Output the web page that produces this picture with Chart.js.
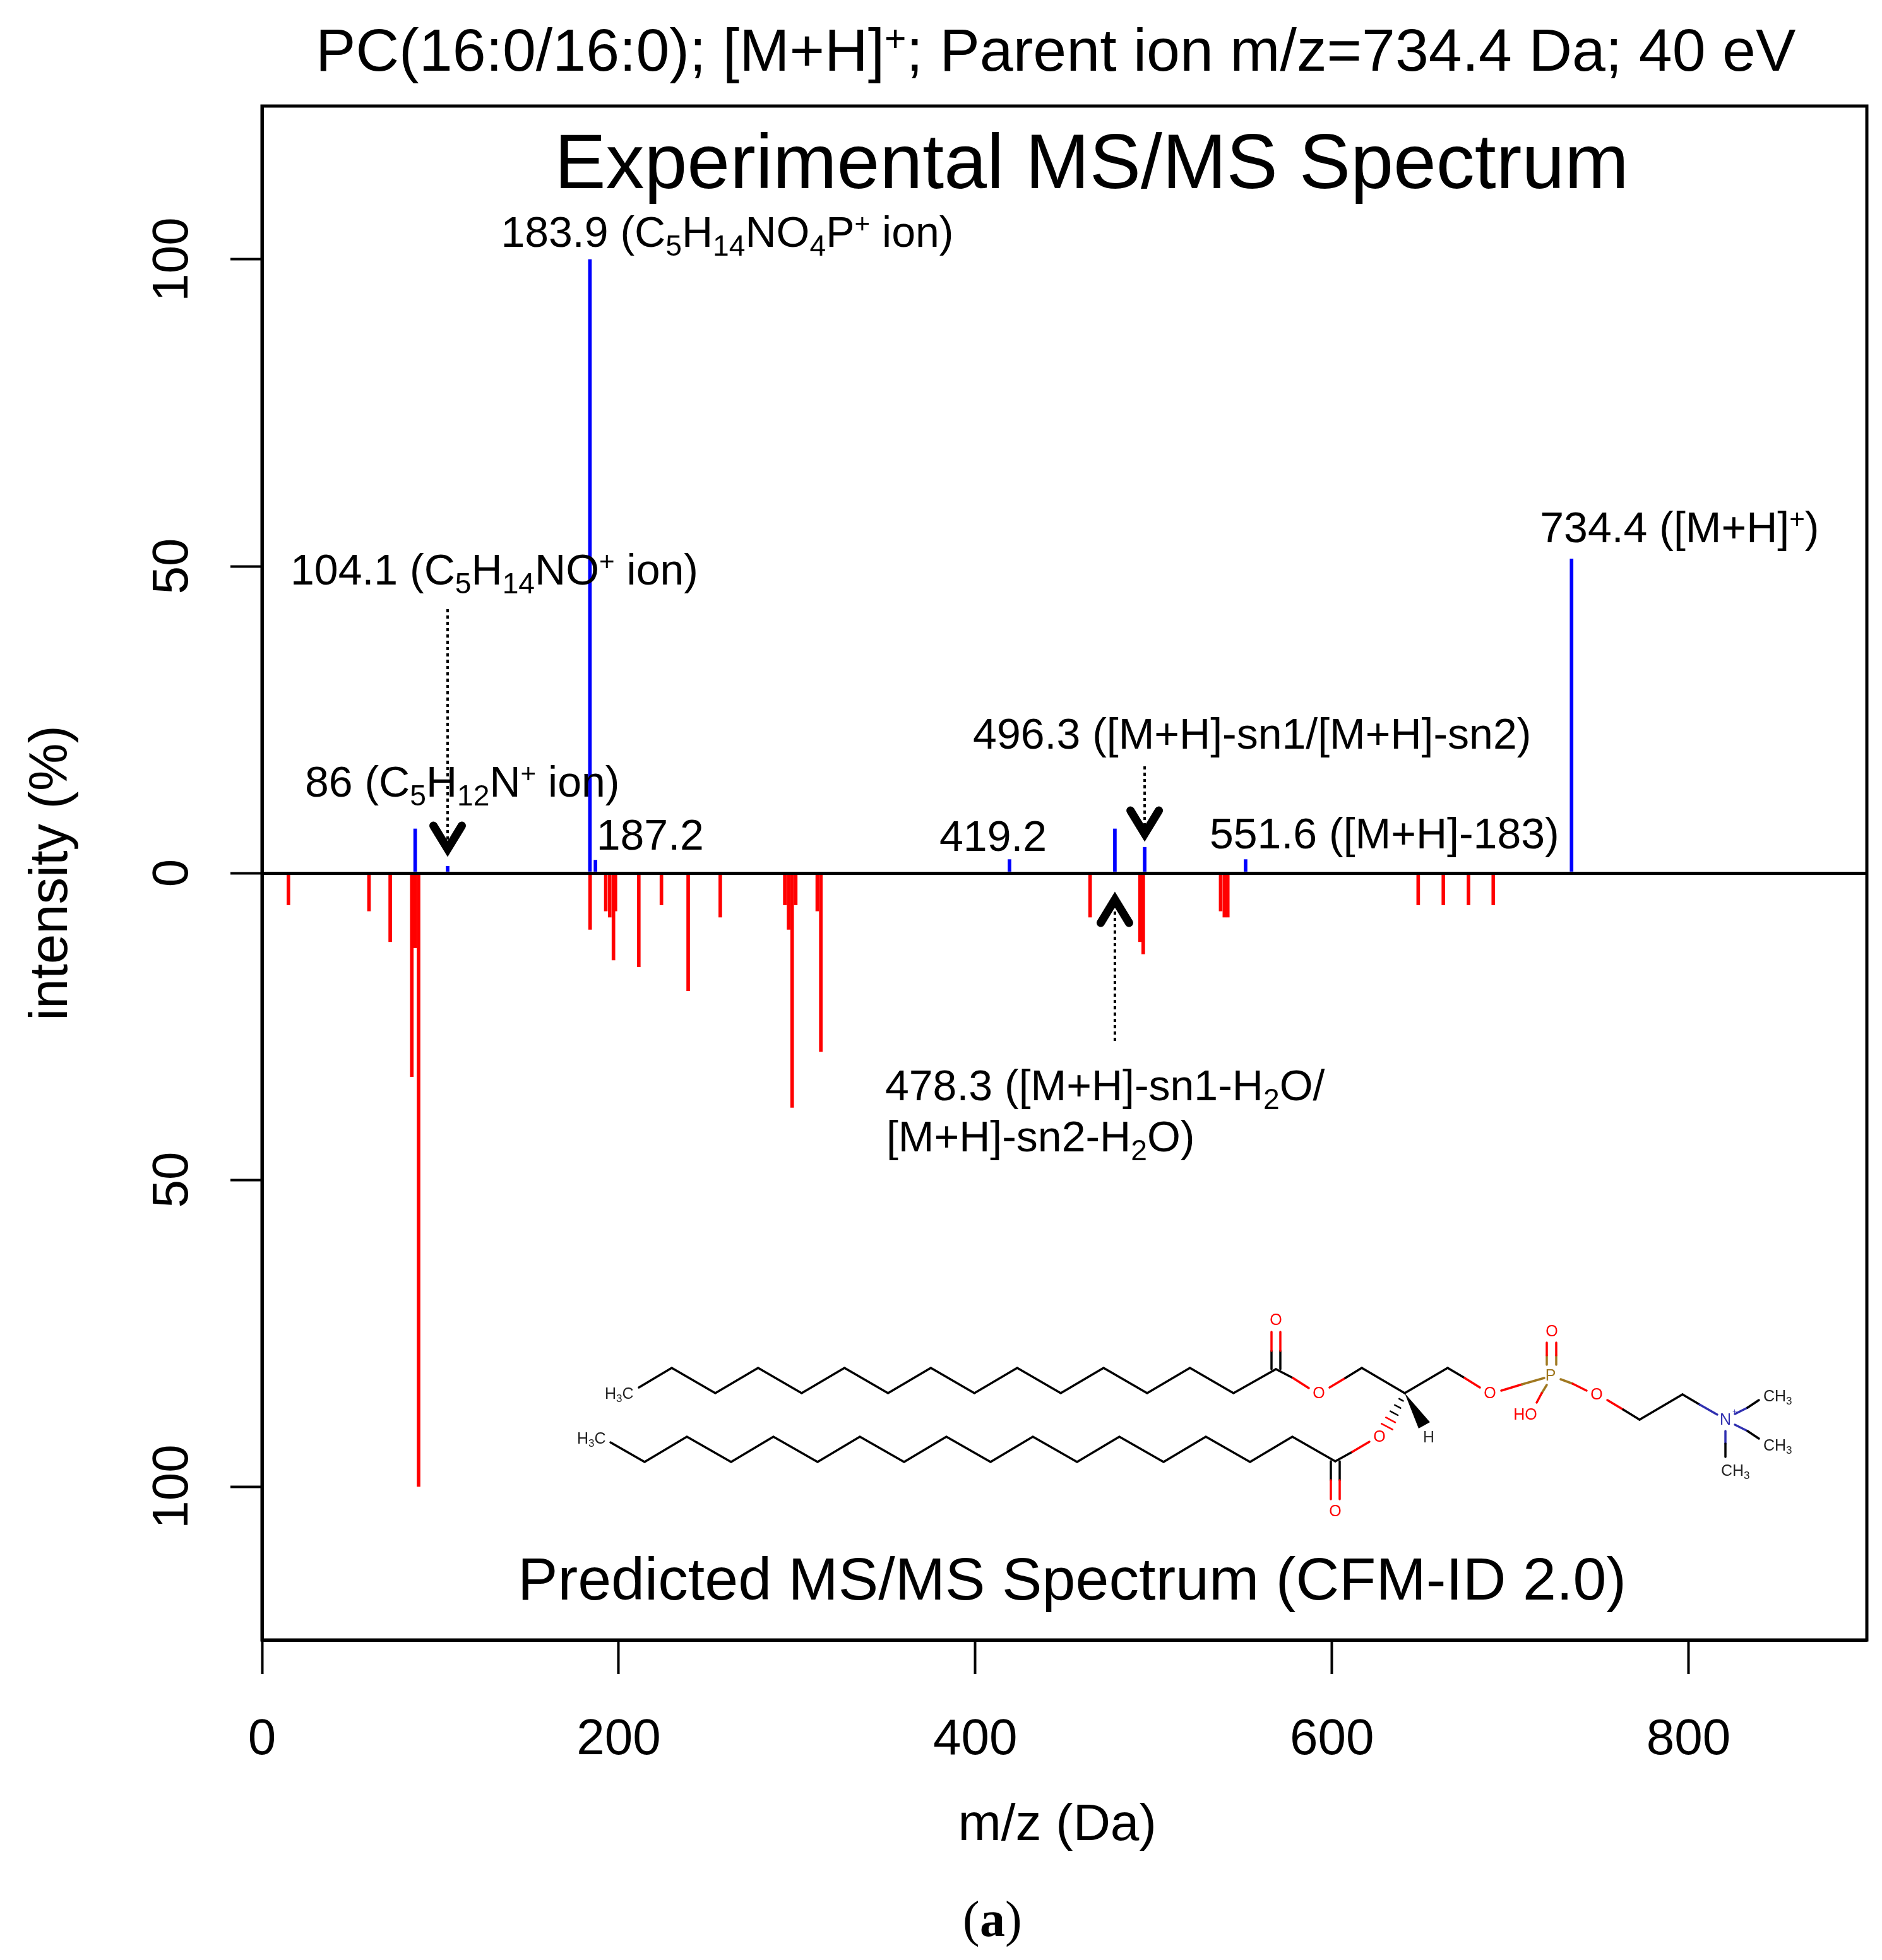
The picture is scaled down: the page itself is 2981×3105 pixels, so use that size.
<!DOCTYPE html>
<html>
<head>
<meta charset="utf-8">
<title>PC(16:0/16:0) MS/MS</title>
<script src="https://cdn.jsdelivr.net/npm/chart.js@4"></script>
<style>
  html, body { margin: 0; padding: 0; background: #fff; }
  canvas { display: block; }
</style>
</head>
<body>
<canvas id="spectrum" width="2981" height="3105"></canvas>
<script>
// Experimental peaks (drawn upward)
const expMz = [85.9, 104.1, 183.9, 187, 419.2, 478.3, 495, 551.6, 734.4];
const expIntensity = [7.2, 1.1, 100, 2.1, 2.2, 7.2, 4.2, 2.2, 51.2];

// Predicted peaks (drawn downward)
const predMz = [14.8, 60, 71.9, 84, 85.9, 87.8, 184, 192.8, 195, 197.1, 198.2, 211.3, 224, 239, 257,
  293.2, 295.3, 297.3, 299.3, 311.4, 313.4, 464.4, 492.4, 494.2, 537.6, 539.7, 541.6, 648.4, 662.5, 676.6, 690.5];
const predIntensity = [5.2, 6.2, 11.2, 33.2, 12.2, 100, 9.2, 6.2, 7.2, 14.2, 6.2, 15.3, 5.2, 19.2, 7.2,
  5.2, 9.2, 38.2, 5.2, 6.2, 29.1, 7.2, 11.2, 13.2, 6.2, 7.2, 7.2, 5.2, 5.2, 5.2, 5.2];

const xTicks = [0, 200, 400, 600, 800];
const yTicks = [-100, -50, 0, 50, 100];

const FONT = '"Liberation Sans", Arial, sans-serif';

// rich text helper: segments are [text, 'sub' | 'sup' | undefined]
function drawRich(ctx, segs, x, y, size, color) {
  ctx.textAlign = 'left';
  ctx.textBaseline = 'alphabetic';
  ctx.fillStyle = color || '#000';
  let cx = x;
  segs.forEach(function (s) {
    let small = size, dy = 0;
    if (s[1] === 'sub') { small = size * 0.68; dy = size * 0.2; }
    if (s[1] === 'sup') { small = size * 0.62; dy = -size * 0.33; }
    ctx.font = small + 'px ' + FONT;
    ctx.fillText(s[0], cx, y + dy);
    cx += ctx.measureText(s[0]).width;
  });
}

// peak labels, placed from the peak's own scale position plus a pixel offset
const peakLabels = [
  { mz: 183.9, val: 100, dx: -141, dy: -20, segs: [['183.9 (C'], ['5', 'sub'], ['H'], ['14', 'sub'], ['NO'], ['4', 'sub'], ['P'], ['+', 'sup'], [' ion)']] },
  { mz: 104.1, val: 0,   dx: -249, dy: -457, segs: [['104.1 (C'], ['5', 'sub'], ['H'], ['14', 'sub'], ['NO'], ['+', 'sup'], [' ion)']] },
  { mz: 86,    val: 0,   dx: -175, dy: -121, segs: [['86 (C'], ['5', 'sub'], ['H'], ['12', 'sub'], ['N'], ['+', 'sup'], [' ion)']] },
  { mz: 187.2, val: 0,   dx: 1,    dy: -37, segs: [['187.2']] },
  { mz: 419.2, val: 0,   dx: -111, dy: -35, segs: [['419.2']] },
  { mz: 551.6, val: 0,   dx: -57,  dy: -39, segs: [['551.6 ([M+H]-183)']] },
  { mz: 495,   val: 0,   dx: -272, dy: -197, segs: [['496.3 ([M+H]-sn1/[M+H]-sn2)']] },
  { mz: 734.4, val: 51,  dx: -50,  dy: -28, segs: [['734.4 ([M+H]'], ['+', 'sup'], [')']] },
  { mz: 478.3, val: 0,   dx: -364, dy: 360, segs: [['478.3 ([M+H]-sn1-H'], ['2', 'sub'], ['O/']] },
  { mz: 478.3, val: 0,   dx: -362, dy: 441, segs: [['[M+H]-sn2-H'], ['2', 'sub'], ['O)']] }
];

// dotted arrows with a chevron head (pixel offsets from the baseline)
const arrows = [
  { mz: 104.1, from: -418, to: -38, dir: 1 },
  { mz: 495,   from: -169, to: -62, dir: 1 },
  { mz: 478.3, from: 266,  to: 42,  dir: -1 }
];

// molecule, in page pixels
const black = '#000', oxy = '#f00', phos = '#a07820', nitro = '#3030b0';
const topChain = [[1012, 2198]];
for (const k of [0, 1, 2, 3, 4, 5, 6]) topChain.push([1064 + 136.8 * k, 2167], [1133 + 136.8 * k, 2207]);
topChain.push([2021, 2169]);
const botChain = [[967, 2285]];
for (const k of [0, 1, 2, 3, 4, 5, 6, 7]) botChain.push([1021 + 137 * k, 2316], [1088 + 137 * k, 2276]);
botChain.push([2115, 2315]);
const bonds = [
  [black, 2014, 2169, 2014, 2140], [oxy, 2014, 2140, 2014, 2110],
  [black, 2028, 2169, 2028, 2140], [oxy, 2028, 2140, 2028, 2110],
  [black, 2021, 2169, 2048, 2183], [oxy, 2048, 2183, 2073, 2199],
  [oxy, 2106, 2198, 2131, 2183], [black, 2131, 2183, 2157, 2167],
  [black, 2157, 2167, 2225, 2207], [black, 2225, 2207, 2293, 2167],
  [black, 2293, 2167, 2320, 2183], [oxy, 2320, 2183, 2344, 2198],
  [oxy, 2378, 2203, 2411, 2193], [phos, 2411, 2193, 2446, 2183],
  [phos, 2450, 2162, 2450, 2147], [oxy, 2450, 2147, 2450, 2127],
  [phos, 2465, 2162, 2465, 2147], [oxy, 2465, 2147, 2465, 2127],
  [phos, 2450, 2194, 2442, 2207], [oxy, 2442, 2207, 2434, 2222],
  [phos, 2472, 2185, 2491, 2192], [oxy, 2491, 2192, 2513, 2203],
  [oxy, 2546, 2218, 2571, 2233], [black, 2571, 2233, 2597, 2249],
  [black, 2597, 2249, 2665, 2209], [black, 2665, 2209, 2692, 2225],
  [nitro, 2692, 2225, 2720, 2241], [nitro, 2748, 2240, 2768, 2230], [black, 2768, 2230, 2786, 2218],
  [nitro, 2748, 2257, 2768, 2267], [black, 2768, 2267, 2786, 2279],
  [nitro, 2733, 2267, 2733, 2287], [black, 2733, 2287, 2733, 2308],
  [black, 2115, 2315, 2142, 2300], [oxy, 2142, 2300, 2169, 2284],
  [black, 2108, 2315, 2108, 2345], [oxy, 2108, 2345, 2108, 2375],
  [black, 2122, 2315, 2122, 2345], [oxy, 2122, 2345, 2122, 2375]
];
const atoms = [
  [oxy, 'O', 2021, 2092], [oxy, 'O', 2089, 2208], [oxy, 'O', 2360, 2208], [oxy, 'O', 2458, 2110],
  [oxy, 'HO', 2416, 2242], [oxy, 'O', 2529, 2210], [oxy, 'O', 2185, 2277], [oxy, 'O', 2115, 2395],
  [phos, 'P', 2456, 2180], [nitro, 'N', 2733, 2250], ['#333', 'H', 2263, 2278]
];
const methyls = [
  [2793, 2220], [2793, 2298], [2726, 2338]
];

function drawMolecule(ctx) {
  ctx.save();
  ctx.lineCap = 'round';
  ctx.lineJoin = 'miter';
  ctx.lineWidth = 3.5;
  ctx.strokeStyle = black;
  [topChain, botChain].forEach(function (pts) {
    ctx.beginPath();
    pts.forEach(function (p, i) { i ? ctx.lineTo(p[0], p[1]) : ctx.moveTo(p[0], p[1]); });
    ctx.stroke();
  });
  bonds.forEach(function (b) {
    ctx.strokeStyle = b[0];
    ctx.beginPath();
    ctx.moveTo(b[1], b[2]);
    ctx.lineTo(b[3], b[4]);
    ctx.stroke();
  });
  // wedge and hash at the chiral carbon
  ctx.fillStyle = black;
  ctx.beginPath();
  ctx.moveTo(2225, 2207);
  ctx.lineTo(2247, 2263);
  ctx.lineTo(2265, 2253);
  ctx.closePath();
  ctx.fill();
  ctx.lineWidth = 2.5;
  for (const t of [0.2, 0.4, 0.6, 0.8, 1]) {
    const cx = 2225 - 28 * t, cy = 2207 + 53 * t, w = 2 + 8 * t;
    ctx.strokeStyle = t > 0.7 ? oxy : black;
    ctx.beginPath();
    ctx.moveTo(cx - w * 0.88, cy - w * 0.47);
    ctx.lineTo(cx + w * 0.88, cy + w * 0.47);
    ctx.stroke();
  }
  // atom labels
  ctx.font = '25px ' + FONT;
  ctx.textAlign = 'center';
  ctx.textBaseline = 'middle';
  atoms.forEach(function (a) {
    ctx.fillStyle = a[0];
    ctx.fillText(a[1], a[2], a[3]);
  });
  ctx.restore();
  drawRich(ctx, [['H'], ['3', 'sub'], ['C']], 958, 2216, 25, '#222');
  drawRich(ctx, [['H'], ['3', 'sub'], ['C']], 914, 2287, 25, '#222');
  methyls.forEach(function (m) {
    drawRich(ctx, [['CH'], ['3', 'sub']], m[0], m[1], 25, '#222');
  });
  drawRich(ctx, [['+', 'sup']], 2744, 2247, 20, nitro);
}

const decorations = {
  id: 'decorations',
  afterDraw: function (chart) {
    const ctx = chart.ctx, a = chart.chartArea, x = chart.scales.x, y = chart.scales.y;
    const zero = y.getPixelForValue(0);

    // R-style box
    ctx.save();
    ctx.strokeStyle = '#000';
    ctx.lineWidth = 5;
    ctx.strokeRect(a.left, a.top, a.right - a.left, a.bottom - a.top);
    ctx.restore();

    // titles
    drawRich(ctx, [['PC(16:0/16:0); [M+H]'], ['+', 'sup'], ['; Parent ion m/z=734.4 Da; 40 eV']], 500, 112, 95.1);
    ctx.textAlign = 'center';
    ctx.textBaseline = 'middle';
    ctx.fillStyle = '#000';
    ctx.font = '122px ' + FONT;
    ctx.fillText('Experimental MS/MS Spectrum', 1729, 264);
    ctx.font = '95.2px ' + FONT;
    ctx.fillText('Predicted MS/MS Spectrum (CFM-ID 2.0)', 1698, 2508);

    // panel letter, only the a is bold
    ctx.textBaseline = 'alphabetic';
    ctx.textAlign = 'left';
    ctx.font = '80px "Liberation Serif", serif';
    ctx.fillText('(', 1525, 3067);
    ctx.font = 'bold 80px "Liberation Serif", serif';
    ctx.fillText('a', 1552, 3067);
    ctx.font = '80px "Liberation Serif", serif';
    ctx.fillText(')', 1592, 3067);

    // peak labels
    peakLabels.forEach(function (l) {
      drawRich(ctx, l.segs, x.getPixelForValue(l.mz) + l.dx, y.getPixelForValue(l.val) + l.dy, 68);
    });

    // arrows
    ctx.save();
    ctx.strokeStyle = '#000';
    arrows.forEach(function (ar) {
      const px = x.getPixelForValue(ar.mz);
      ctx.lineCap = 'butt';
      ctx.lineWidth = 4;
      ctx.setLineDash([5, 5]);
      ctx.beginPath();
      ctx.moveTo(px, zero + ar.from);
      ctx.lineTo(px, zero + ar.to);
      ctx.stroke();
      ctx.setLineDash([]);
      ctx.lineCap = 'round';
      ctx.lineJoin = 'miter';
      ctx.lineWidth = 13;
      ctx.beginPath();
      ctx.moveTo(px - 22.5, zero + ar.to - ar.dir * 37);
      ctx.lineTo(px, zero + ar.to);
      ctx.lineTo(px + 22.5, zero + ar.to - ar.dir * 37);
      ctx.stroke();
    });
    ctx.restore();

    drawMolecule(ctx);
  }
};

new Chart(document.getElementById('spectrum').getContext('2d'), {
  type: 'bar',
  data: {
    datasets: [
      {
        label: 'Experimental',
        data: expMz.map(function (m, i) { return { x: m, y: expIntensity[i] }; }),
        backgroundColor: '#0000ff',
        barThickness: 5,
        grouped: false
      },
      {
        label: 'Predicted',
        data: predMz.map(function (m, i) { return { x: m, y: -predIntensity[i] }; }),
        backgroundColor: '#ff0000',
        barThickness: 5,
        grouped: false
      }
    ]
  },
  options: {
    responsive: false,
    animation: false,
    devicePixelRatio: 1,
    layout: { padding: { left: 0, top: 168, right: 24, bottom: 0 } },
    plugins: { legend: { display: false }, tooltip: { enabled: false } },
    scales: {
      x: {
        type: 'linear',
        min: 0,
        max: 900,
        offset: false,
        afterBuildTicks: function (axis) { axis.ticks = xTicks.map(function (v) { return { value: v }; }); },
        afterFit: function (axis) { axis.height = 507; },
        grid: { display: true, offset: false, drawOnChartArea: false, tickLength: 54, tickColor: '#000', tickWidth: 4, color: '#000' },
        border: { display: true, color: '#000', width: 5 },
        ticks: { color: '#000', font: { family: FONT, size: 80 }, padding: 57, maxRotation: 0, autoSkip: false },
        title: { display: true, text: 'm/z (Da) ', color: '#000', font: { family: FONT, size: 82 }, padding: { top: 0, bottom: 163 } }
      },
      y: {
        min: -125,
        max: 125,
        afterBuildTicks: function (axis) { axis.ticks = yTicks.map(function (v) { return { value: v }; }); },
        afterFit: function (axis) { axis.width = 415; },
        grid: {
          z: 1,
          lineWidth: 5,
          tickLength: 50,
          tickWidth: 4,
          tickColor: '#000',
          color: function (c) { return c.tick && c.tick.value === 0 ? '#000' : 'rgba(0,0,0,0)'; }
        },
        border: { display: true, color: '#000', width: 5, z: 2 },
        ticks: {
          color: '#000',
          font: { family: FONT, size: 80 },
          minRotation: 90,
          maxRotation: 90,
          crossAlign: 'center',
          padding: 23,
          autoSkip: false,
          callback: function (v) { return Math.abs(v); }
        },
        title: { display: true, text: 'intensity (%)', color: '#000', font: { family: FONT, size: 85 }, padding: { top: 32, bottom: 0 } }
      }
    }
  },
  plugins: [decorations]
});
</script>
</body>
</html>
